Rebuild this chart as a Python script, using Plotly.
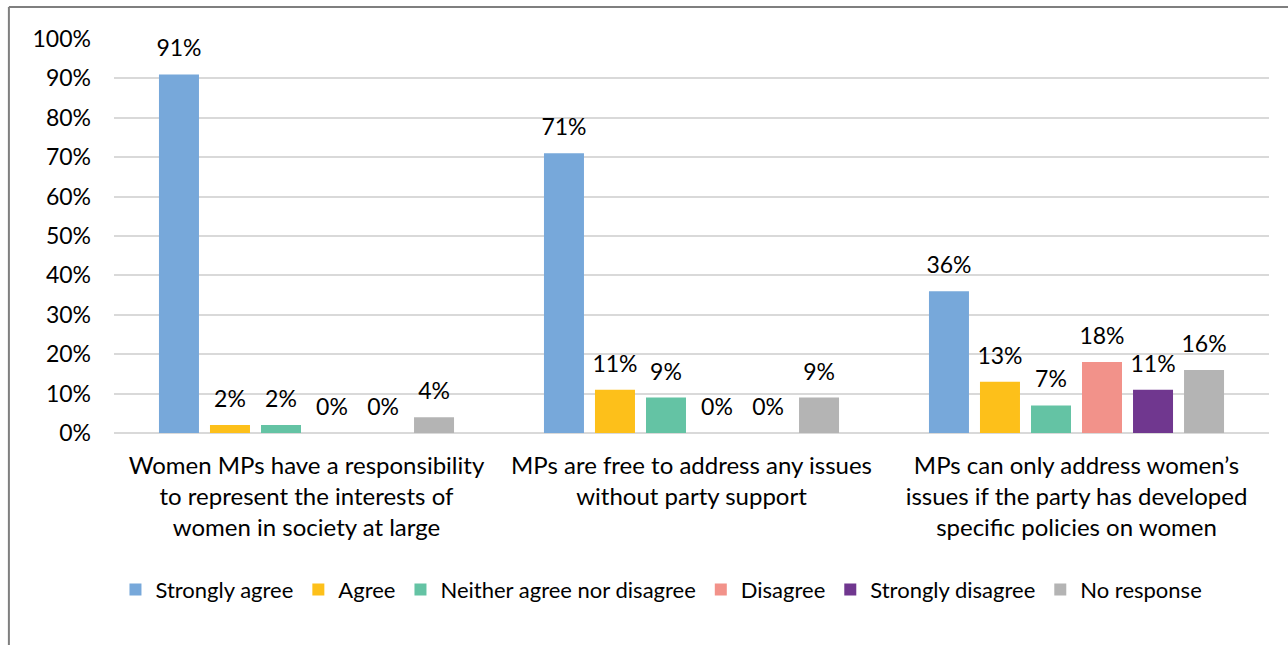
import plotly.graph_objects as go

# Survey statements (x categories)
statements = [
    "Women MPs have a responsibility<br>to represent the interests of<br>women in society at large",
    "MPs are free to address any issues<br>without party support",
    "MPs can only address women’s<br>issues if the party has developed<br>specific policies on women",
]

# Response shares (%) per answer option
strongly_agree = [91, 71, 36]
agree = [2, 11, 13]
neither = [2, 9, 7]
disagree = [0, 0, 18]
strongly_disagree = [0, 0, 11]
no_response = [4, 9, 16]

series_names = ["Strongly agree", "Agree", "Neither agree nor disagree",
                "Disagree", "Strongly disagree", "No response"]
series_values = [strongly_agree, agree, neither, disagree, strongly_disagree, no_response]
series_colors = ["#77A8DA", "#FDC01A", "#64C3A4", "#F2928A", "#70378F", "#B4B4B4"]

y_ticks = list(range(0, 101, 10))

FONT = "Lato, Carlito, Calibri, sans-serif"

fig = go.Figure()
for i, (name, vals, color) in enumerate(zip(series_names, series_values, series_colors)):
    fig.add_trace(go.Bar(
        x=statements, y=vals, name=name,
        offsetgroup=str(i), alignmentgroup="a",
        marker=dict(color=color, line=dict(width=0)),
        hoverinfo="skip",
    ))
for i, vals in enumerate(series_values):
    # value labels sitting above each bar
    fig.add_trace(go.Scatter(
        x=statements, y=vals, mode="text+markers",
        offsetgroup=str(i), alignmentgroup="a",
        marker=dict(size=18, color="rgba(0,0,0,0)"),
        text=[f"{v}%" for v in vals],
        textposition="top center",
        textfont=dict(size=23, color="#000000", family=FONT),
        showlegend=False, cliponaxis=False, hoverinfo="skip",
    ))

fig.update_layout(
    width=1288, height=645,
    margin=dict(l=114, r=19, t=39, b=212),
    paper_bgcolor="white", plot_bgcolor="white",
    barmode="group", bargap=0.205, bargroupgap=0.216,
    scattermode="group",
    font=dict(family=FONT, size=23, color="#000000"),
    showlegend=True,
    legend=dict(orientation="h", x=0.474, xanchor="center", y=-0.398, yanchor="middle",
                font=dict(size=22, family=FONT), traceorder="normal",
                itemwidth=30, tracegroupgap=0),
    xaxis=dict(showgrid=False, showline=False, ticks="", tickfont=dict(size=24),
               ticklabelstandoff=16),
    yaxis=dict(range=[0, 100], tickvals=y_ticks, ticktext=[f"{t}%" for t in y_ticks],
               showgrid=True, gridcolor="#D9D9D9", gridwidth=1.5,
               zeroline=True, zerolinecolor="#D9D9D9", zerolinewidth=1.5,
               ticks="", ticklabelstandoff=22, tickfont=dict(size=23)),
    shapes=[
        dict(type="line", xref="paper", yref="paper",
             x0=-0.091, x1=1.05, y0=1.081, y1=1.081,
             line=dict(color="#7F7F7F", width=2)),
        dict(type="line", xref="paper", yref="paper",
             x0=-0.091, x1=-0.091, y0=1.081, y1=-0.6,
             line=dict(color="#7F7F7F", width=2)),
    ],
)

fig.write_html("out.html")
